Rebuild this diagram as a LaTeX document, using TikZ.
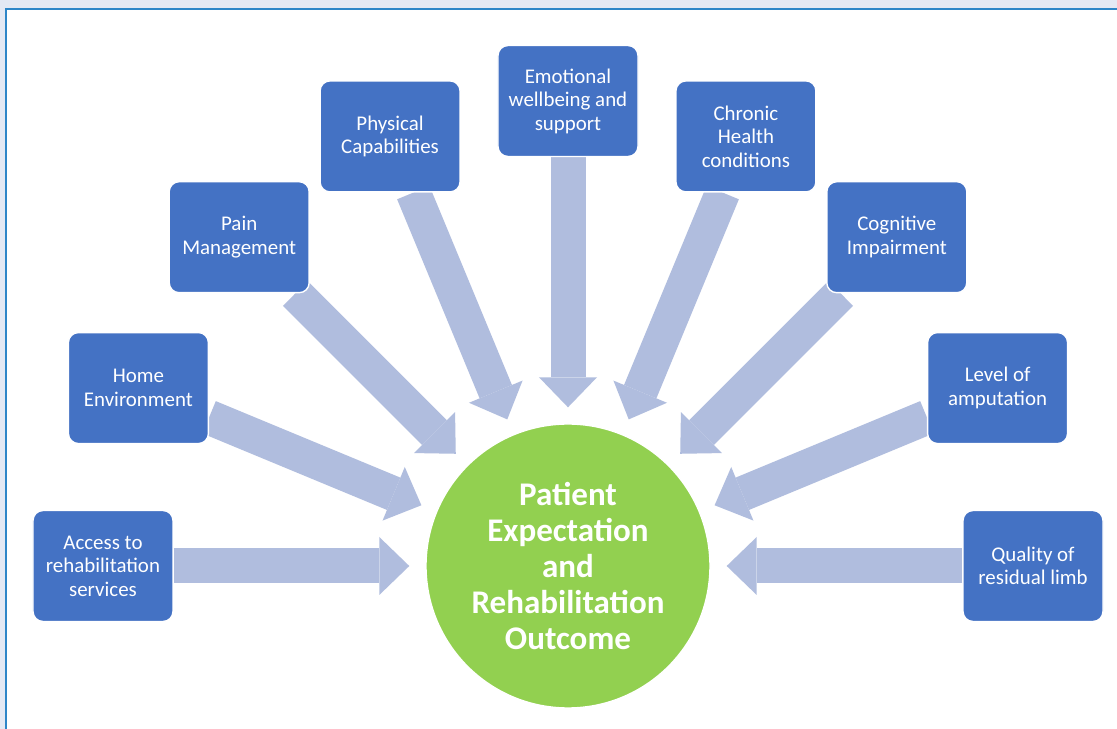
\documentclass[tikz,border=0pt]{standalone}
\usepackage{fontspec}
\setmainfont{Carlito}
\usepackage{tikz}
\usetikzlibrary{backgrounds}
\usetikzlibrary{arrows.meta}
\definecolor{boxblue}{RGB}{68,114,196}
\definecolor{flowblue}{RGB}{176,189,222}
\definecolor{hubgreen}{RGB}{146,208,80}
\definecolor{framefill}{RGB}{228,233,244}
\definecolor{frameline}{RGB}{46,134,200}

\begin{document}
\begin{tikzpicture}[
    factor/.style={rectangle, rounded corners=0.2cm, draw=white, line width=0.8pt, fill=boxblue, text=white, minimum width=2.8cm, minimum height=2.22cm, inner sep=2pt, align=center, font=\fontsize{11.9}{13.4}\selectfont},
    hub/.style={circle, draw=white, line width=0.8pt, fill=hubgreen, text=white, minimum size=5.68cm, inner sep=0pt, align=center, font=\fontsize{18.8}{20.5}\selectfont\bfseries},
    flow/.style={draw=flowblue, line width=0.7cm, -{Triangle[width=1.16cm,length=0.6cm,line width=0pt]}, shorten >=0.32cm}
]
\useasboundingbox (-11.36,-3.26) rectangle (10.98,11.32);

\node[hub] (hub) at (0,0) {Patient\\Expectation\\and\\Rehabilitation\\Outcome};
\node[factor] (access) at (180:9.3) {Access to\\rehabilitation\\services};
\node[factor] (home) at (157.5:9.3) {Home\\Environment};
\node[factor] (pain) at (135:9.3) {Pain\\Management};
\node[factor] (physical) at (112.5:9.3) {Physical\\Capabilities};
\node[factor] (emotional) at (90:9.3) {Emotional\\wellbeing and\\support};
\node[factor] (chronic) at (67.5:9.3) {Chronic\\Health\\conditions};
\node[factor] (cognitive) at (45:9.3) {Cognitive\\Impairment};
\node[factor] (level) at (22.5:9.3) {Level of\\amputation};
\node[factor] (residual) at (0:9.3) {Quality of\\residual limb};

\begin{scope}[on background layer]
    \fill[framefill] (-11.36,-3.26) rectangle (10.98,11.32);
    \fill[white] (-11.24,-3.26) rectangle (10.98,11.14);
    \draw[frameline, line width=0.04cm] (-11.24,-3.26) |- (10.98,11.14);
    \draw[flow] (access) -- (hub);
    \draw[flow] (home) -- (hub);
    \draw[flow] (pain) -- (hub);
    \draw[flow] (physical) -- (hub);
    \draw[flow] (emotional) -- (hub);
    \draw[flow] (chronic) -- (hub);
    \draw[flow] (cognitive) -- (hub);
    \draw[flow] (level) -- (hub);
    \draw[flow] (residual) -- (hub);
\end{scope}
\end{tikzpicture}
\end{document}
